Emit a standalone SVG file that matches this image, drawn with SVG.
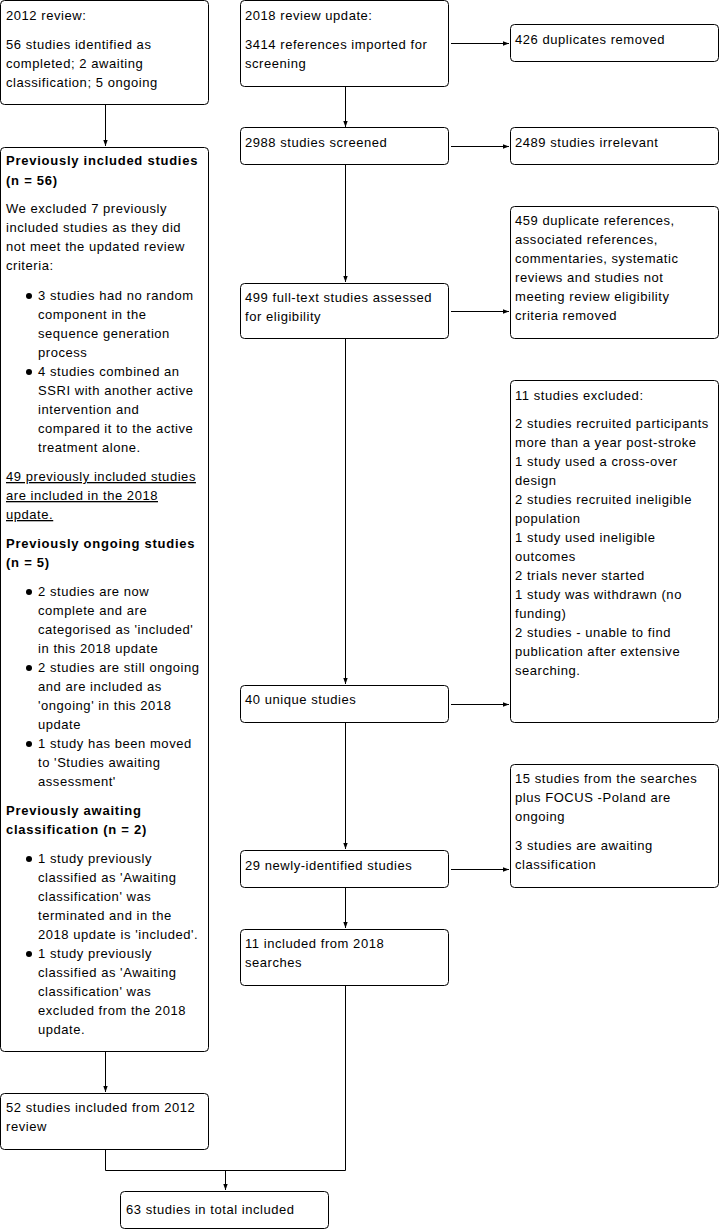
<svg xmlns="http://www.w3.org/2000/svg" width="724" height="1230" viewBox="0 0 724 1230">
<style>
.box{fill:#fff;stroke:#000;stroke-width:1}
text{font-family:"Liberation Sans",Arial,sans-serif;font-size:13px;fill:#000;letter-spacing:0.55px}
.b{font-weight:bold;letter-spacing:0.75px}
.u{text-decoration:underline}
.c{fill:none;stroke:#000;stroke-width:1}
</style>
<defs>
<marker id="ah" markerUnits="userSpaceOnUse" markerWidth="8" markerHeight="8" refX="6" refY="3" orient="auto">
<path d="M0,0.8 L6,3 L0,5.2 Z" fill="#000"/>
</marker>
</defs>
<g id="connectors">
<path class="c" d="M105.5,105 V146" marker-end="url(#ah)"/>
<path class="c" d="M451,43.5 H509" marker-end="url(#ah)"/>
<path class="c" d="M345.5,87 V127" marker-end="url(#ah)"/>
<path class="c" d="M451,146.5 H509" marker-end="url(#ah)"/>
<path class="c" d="M345.5,165 V282" marker-end="url(#ah)"/>
<path class="c" d="M451,311.5 H509" marker-end="url(#ah)"/>
<path class="c" d="M345.5,339 V684" marker-end="url(#ah)"/>
<path class="c" d="M451,704.5 H509" marker-end="url(#ah)"/>
<path class="c" d="M345.5,723 V849" marker-end="url(#ah)"/>
<path class="c" d="M451,869.5 H509" marker-end="url(#ah)"/>
<path class="c" d="M345.5,888 V928" marker-end="url(#ah)"/>
<path class="c" d="M105.5,1052 V1092" marker-end="url(#ah)"/>
<path class="c" d="M105.5,1150 V1170.5 H345.5 V986"/>
<path class="c" d="M225.5,1170.5 V1190" marker-end="url(#ah)"/>
</g>
<g id="n2012">
<rect class="box" x="0.5" y="0.5" width="208" height="104" rx="4"/>
<text x="6" y="20">2012 review:</text>
<text x="6" y="49">56 studies identified as</text>
<text x="6" y="68">completed; 2 awaiting</text>
<text x="6" y="87">classification; 5 ongoing</text>
</g>
<g id="nPrev">
<rect class="box" x="0.5" y="147.5" width="208" height="904" rx="4"/>
<text class="b" x="6" y="165">Previously included studies</text>
<text class="b" x="6" y="185">(n = 56)</text>
<text x="6" y="213">We excluded 7 previously</text>
<text x="6" y="232">included studies as they did</text>
<text x="6" y="251">not meet the updated review</text>
<text x="6" y="270">criteria:</text>
<circle cx="29" cy="296" r="3"/>
<text x="38" y="300">3 studies had no random</text>
<text x="38" y="319">component in the</text>
<text x="38" y="338">sequence generation</text>
<text x="38" y="357">process</text>
<circle cx="29" cy="372" r="3"/>
<text x="38" y="376">4 studies combined an</text>
<text x="38" y="395">SSRI with another active</text>
<text x="38" y="414">intervention and</text>
<text x="38" y="433">compared it to the active</text>
<text x="38" y="452">treatment alone.</text>
<text class="u" x="6" y="481">49 previously included studies</text>
<text class="u" x="6" y="500">are included in the 2018</text>
<text class="u" x="6" y="519">update.</text>
<text class="b" x="6" y="548">Previously ongoing studies</text>
<text class="b" x="6" y="567">(n = 5)</text>
<circle cx="29" cy="592" r="3"/>
<text x="38" y="596">2 studies are now</text>
<text x="38" y="615">complete and are</text>
<text x="38" y="634">categorised as 'included'</text>
<text x="38" y="653">in this 2018 update</text>
<circle cx="29" cy="668" r="3"/>
<text x="38" y="672">2 studies are still ongoing</text>
<text x="38" y="691">and are included as</text>
<text x="38" y="710">'ongoing' in this 2018</text>
<text x="38" y="729">update</text>
<circle cx="29" cy="744" r="3"/>
<text x="38" y="748">1 study has been moved</text>
<text x="38" y="767">to 'Studies awaiting</text>
<text x="38" y="786">assessment'</text>
<text class="b" x="6" y="815">Previously awaiting</text>
<text class="b" x="6" y="834">classification (n = 2)</text>
<circle cx="29" cy="859" r="3"/>
<text x="38" y="863">1 study previously</text>
<text x="38" y="882">classified as 'Awaiting</text>
<text x="38" y="901">classification' was</text>
<text x="38" y="920">terminated and in the</text>
<text x="38" y="939">2018 update is 'included'.</text>
<circle cx="29" cy="954" r="3"/>
<text x="38" y="958">1 study previously</text>
<text x="38" y="977">classified as 'Awaiting</text>
<text x="38" y="996">classification' was</text>
<text x="38" y="1015">excluded from the 2018</text>
<text x="38" y="1034">update.</text>
</g>
<g id="n52">
<rect class="box" x="0.5" y="1093.5" width="208" height="56" rx="4"/>
<text x="6" y="1112">52 studies included from 2012</text>
<text x="6" y="1131">review</text>
</g>
<g id="n63">
<rect class="box" x="120.5" y="1191.5" width="208" height="37" rx="4"/>
<text x="126" y="1214">63 studies in total included</text>
</g>
<g id="n2018">
<rect class="box" x="240.5" y="0.5" width="208" height="86" rx="4"/>
<text x="245" y="20">2018 review update:</text>
<text x="245" y="49">3414 references imported for</text>
<text x="245" y="68">screening</text>
</g>
<g id="n426">
<rect class="box" x="510.5" y="24.5" width="208" height="37" rx="4"/>
<text x="515" y="44">426 duplicates removed</text>
</g>
<g id="n2988">
<rect class="box" x="240.5" y="127.5" width="208" height="37" rx="4"/>
<text x="245" y="147">2988 studies screened</text>
</g>
<g id="n2489">
<rect class="box" x="510.5" y="127.5" width="208" height="37" rx="4"/>
<text x="515" y="147">2489 studies irrelevant</text>
</g>
<g id="n499">
<rect class="box" x="240.5" y="283.5" width="208" height="55" rx="4"/>
<text x="245" y="302">499 full-text studies assessed</text>
<text x="245" y="321">for eligibility</text>
</g>
<g id="n459">
<rect class="box" x="510.5" y="206.5" width="208" height="132" rx="4"/>
<text x="515" y="225">459 duplicate references,</text>
<text x="515" y="244">associated references,</text>
<text x="515" y="263">commentaries, systematic</text>
<text x="515" y="282">reviews and studies not</text>
<text x="515" y="301">meeting review eligibility</text>
<text x="515" y="320">criteria removed</text>
</g>
<g id="n11ex">
<rect class="box" x="510.5" y="380.5" width="208" height="342" rx="4"/>
<text x="515" y="400">11 studies excluded:</text>
<text x="515" y="428">2 studies recruited participants</text>
<text x="515" y="447">more than a year post-stroke</text>
<text x="515" y="466">1 study used a cross-over</text>
<text x="515" y="485">design</text>
<text x="515" y="504">2 studies recruited ineligible</text>
<text x="515" y="523">population</text>
<text x="515" y="542">1 study used ineligible</text>
<text x="515" y="561">outcomes</text>
<text x="515" y="580">2 trials never started</text>
<text x="515" y="599">1 study was withdrawn (no</text>
<text x="515" y="618">funding)</text>
<text x="515" y="637">2 studies - unable to find</text>
<text x="515" y="656">publication after extensive</text>
<text x="515" y="675">searching.</text>
</g>
<g id="n40">
<rect class="box" x="240.5" y="685.5" width="208" height="37" rx="4"/>
<text x="245" y="704">40 unique studies</text>
</g>
<g id="n15">
<rect class="box" x="510.5" y="764.5" width="208" height="123" rx="4"/>
<text x="515" y="783">15 studies from the searches</text>
<text x="515" y="802">plus FOCUS -Poland are</text>
<text x="515" y="821">ongoing</text>
<text x="515" y="850">3 studies are awaiting</text>
<text x="515" y="869">classification</text>
</g>
<g id="n29">
<rect class="box" x="240.5" y="850.5" width="208" height="37" rx="4"/>
<text x="245" y="870">29 newly-identified studies</text>
</g>
<g id="n11inc">
<rect class="box" x="240.5" y="929.5" width="208" height="56" rx="4"/>
<text x="245" y="948">11 included from 2018</text>
<text x="245" y="967">searches</text>
</g>
</svg>
